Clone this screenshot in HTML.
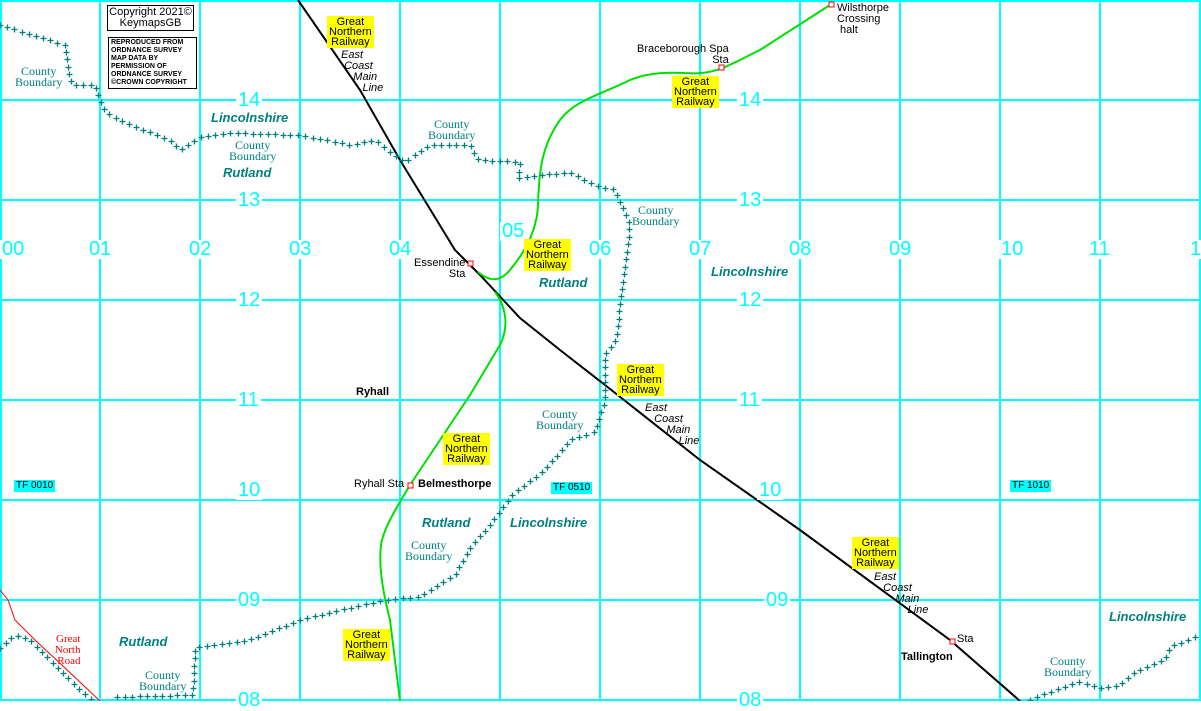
<!DOCTYPE html>
<html><head><meta charset="utf-8"><style>
body{margin:0;background:#fff;width:1201px;height:701px;overflow:hidden;position:relative;font-family:"Liberation Sans",sans-serif}
svg{position:absolute;left:0;top:0}
.g{position:absolute;background:#ff0;font-size:11px;line-height:10px;text-align:center;padding:1px 2px;white-space:nowrap}
.n{position:absolute;color:#00ffff;font-size:20px;background:#fff;padding:0 2px;line-height:19px}
.cb{position:absolute;color:#008080;font-family:"Liberation Serif",serif;font-size:12px;line-height:11px;text-align:center;background:#fff}
.co{position:absolute;color:#008080;font-family:"Liberation Sans",sans-serif;font-weight:bold;font-style:italic;font-size:13px;background:#fff;line-height:14px}
.bl{position:absolute;font-size:11px;line-height:11px;color:#000}
.it{position:absolute;font-size:11px;font-style:italic;line-height:11px;text-align:center}
.tf{position:absolute;background:#00ffff;font-size:10px;padding:0 2px;line-height:12px}
</style></head><body>
<svg width="1201" height="701" id="s">
<g stroke="#00ffff" stroke-width="2">
<line x1="0" y1="1" x2="1201" y2="1"/>
<line x1="0" y1="100" x2="1201" y2="100"/><line x1="0" y1="200" x2="1201" y2="200"/>
<line x1="0" y1="300" x2="1201" y2="300"/><line x1="0" y1="400" x2="1201" y2="400"/>
<line x1="0" y1="500" x2="1201" y2="500"/><line x1="0" y1="600" x2="1201" y2="600"/>
<line x1="0" y1="700" x2="1201" y2="700"/>
<line x1="1" y1="0" x2="1" y2="701"/><line x1="100" y1="0" x2="100" y2="701"/>
<line x1="200" y1="0" x2="200" y2="701"/><line x1="300" y1="0" x2="300" y2="701"/>
<line x1="400" y1="0" x2="400" y2="701"/><line x1="500" y1="0" x2="500" y2="701"/>
<line x1="600" y1="0" x2="600" y2="701"/><line x1="700" y1="0" x2="700" y2="701"/>
<line x1="800" y1="0" x2="800" y2="701"/><line x1="900" y1="0" x2="900" y2="701"/>
<line x1="1000" y1="0" x2="1000" y2="701"/><line x1="1100" y1="0" x2="1100" y2="701"/>
<line x1="1200" y1="0" x2="1200" y2="701"/>
</g>
<g id="cbpaths" fill="none" stroke="none">
<path d="M0,25 L65,45 L68,70 L72,85 L95,85 L100,100 L105,112 L130,125 L170,140 L180,150 L200,137 L230,133 L300,135 L350,145 L375,140 L390,152 L405,162 L430,145 L470,145 L478,160 L520,162 L518,178 L570,172 L595,185 L615,190 L630,225 L622,290 L616,340 L605,355 L605,400 L595,432 L570,440 L545,470 L512,495 L490,525 L470,548 L455,575 L420,597 L385,600 L340,610 L300,620 L250,640 L195,648 L193,695 L115,697"/>
<path d="M0,648 L15,635 L30,640 L45,655 L70,680 L92,700"/>
<path d="M1030,700 L1060,688 L1080,682 L1100,688 L1120,685 L1135,672 L1165,660 L1170,647 L1200,635"/>
</g>
<path d="M0,590 L8,600 L15,620 L35,640 L65,668 L100,701" fill="none" stroke="#f00" stroke-width="1"/>
<path d="M298,0 L360,90 L400,160 L455,250 L480,275 L520,318 L560,350 L605,385 L700,460 L800,530 L950,640 L1020,701" fill="none" stroke="#000" stroke-width="2"/>
<path d="M478,272 C490,282 500,282 510,270 C525,252 537,230 538,205 C539,170 542,145 560,120 C575,100 600,95 630,80 C660,68 690,75 700,73 C720,72 735,62 760,50 L830,5" fill="none" stroke="#00e000" stroke-width="2"/>
<path d="M495,292 C505,305 510,325 500,345 L470,395 L440,440 L410,485 C395,510 383,530 381,545 C378,570 385,600 390,620 L400,701" fill="none" stroke="#00e000" stroke-width="2"/>
<g fill="#fff" stroke="#f00" stroke-width="1">
<rect x="468" y="261" width="5" height="5"/><rect x="719" y="65" width="5" height="5"/><rect x="829" y="2" width="5" height="5"/>
<rect x="408" y="483" width="5" height="5"/><rect x="950" y="639" width="5" height="5"/>
</g>
<g id="crosses" stroke="#008080" stroke-width="1.3"></g>
</svg>
<script>
var ps=document.querySelectorAll('#cbpaths path'),g=document.getElementById('crosses'),h='';
ps.forEach(function(p){var L=p.getTotalLength();for(var d=0;d<=L;d+=7.5){var q=p.getPointAtLength(d),x=Math.round(q.x)+.5,y=Math.round(q.y)+.5;h+='<path d="M'+(x-3)+','+y+'h6M'+x+','+(y-3)+'v6"/>';}});
g.innerHTML=h;
</script>
<div style="position:absolute;left:107px;top:5px;border:1px solid #000;background:#fff;font-size:11px;line-height:11px;text-align:center;width:85px;padding:1px 0">Copyright 2021©<br>KeymapsGB</div>
<div style="position:absolute;left:108px;top:37px;border:1px solid #000;background:#fff;font-size:7px;line-height:8px;width:83px;padding:1px 2px;font-weight:bold">REPRODUCED FROM<br>ORDNANCE SURVEY<br>MAP DATA BY<br>PERMISSION OF<br>ORDNANCE SURVEY<br>©CROWN COPYRIGHT</div>
<div class="n" style="left:236px;top:91px">14</div><div class="n" style="left:737px;top:91px">14</div>
<div class="n" style="left:236px;top:191px">13</div><div class="n" style="left:737px;top:191px">13</div>
<div class="n" style="left:236px;top:291px">12</div><div class="n" style="left:737px;top:291px">12</div>
<div class="n" style="left:236px;top:391px">11</div><div class="n" style="left:737px;top:391px">11</div>
<div class="n" style="left:236px;top:481px">10</div><div class="n" style="left:757px;top:481px">10</div>
<div class="n" style="left:236px;top:591px">09</div><div class="n" style="left:764px;top:591px">09</div>
<div class="n" style="left:236px;top:691px">08</div><div class="n" style="left:737px;top:691px">08</div>
<div class="n" style="left:0px;top:240px">00</div><div class="n" style="left:87px;top:240px">01</div>
<div class="n" style="left:187px;top:240px">02</div><div class="n" style="left:287px;top:240px">03</div>
<div class="n" style="left:387px;top:240px">04</div><div class="n" style="left:500px;top:222px">05</div>
<div class="n" style="left:587px;top:240px">06</div><div class="n" style="left:687px;top:240px">07</div>
<div class="n" style="left:787px;top:240px">08</div><div class="n" style="left:887px;top:240px">09</div>
<div class="n" style="left:999px;top:240px">10</div><div class="n" style="left:1087px;top:240px">11</div>
<div class="n" style="left:1188px;top:240px">1</div>
<div class="tf" style="left:14px;top:480px">TF 0010</div>
<div class="tf" style="left:551px;top:482px">TF 0510</div>
<div class="tf" style="left:1010px;top:480px">TF 1010</div>
<div class="g" style="left:327px;top:16px">Great<br>Northern<br>Railway</div>
<div class="g" style="left:672px;top:76px">Great<br>Northern<br>Railway</div>
<div class="g" style="left:524px;top:239px">Great<br>Northern<br>Railway</div>
<div class="g" style="left:617px;top:364px">Great<br>Northern<br>Railway</div>
<div class="g" style="left:443px;top:433px">Great<br>Northern<br>Railway</div>
<div class="g" style="left:852px;top:537px">Great<br>Northern<br>Railway</div>
<div class="g" style="left:343px;top:629px">Great<br>Northern<br>Railway</div>
<div class="it" style="left:338px;top:50px;text-align:left">&nbsp;East<br>&nbsp;&nbsp;Coast<br>&nbsp;&nbsp;&nbsp;&nbsp;&nbsp;Main<br>&nbsp;&nbsp;&nbsp;&nbsp;&nbsp;&nbsp;&nbsp;&nbsp;Line</div>
<div class="it" style="left:645px;top:403px;text-align:left">East<br>&nbsp;&nbsp;&nbsp;Coast<br>&nbsp;&nbsp;&nbsp;&nbsp;&nbsp;&nbsp;&nbsp;Main<br>&nbsp;&nbsp;&nbsp;&nbsp;&nbsp;&nbsp;&nbsp;&nbsp;&nbsp;&nbsp;&nbsp;Line</div>
<div class="it" style="left:874px;top:572px;text-align:left">East<br>&nbsp;&nbsp;&nbsp;Coast<br>&nbsp;&nbsp;&nbsp;&nbsp;&nbsp;&nbsp;&nbsp;Main<br>&nbsp;&nbsp;&nbsp;&nbsp;&nbsp;&nbsp;&nbsp;&nbsp;&nbsp;&nbsp;&nbsp;Line</div>
<div class="bl" style="left:414px;top:258px;text-align:right">Essendine<br>&nbsp;&nbsp;&nbsp;&nbsp;&nbsp;&nbsp;&nbsp;Sta</div>
<div class="bl" style="left:637px;top:44px;text-align:right">Braceborough Spa<br>Sta</div>
<div class="bl" style="left:837px;top:3px">Wilsthorpe<br>Crossing<br>&nbsp;halt</div>
<div class="bl" style="left:354px;top:479px">Ryhall Sta</div>
<div class="bl" style="left:418px;top:479px;font-weight:bold">Belmesthorpe</div>
<div class="bl" style="left:356px;top:387px;font-weight:bold">Ryhall</div>
<div class="bl" style="left:957px;top:634px">Sta</div>
<div class="bl" style="left:901px;top:652px;font-weight:bold">Tallington</div>
<div style="position:absolute;left:38px;top:634px;color:#f00;font-size:11px;line-height:11px;text-align:right;font-family:'Liberation Serif',serif">Great<br>&nbsp;&nbsp;&nbsp;North<br>&nbsp;&nbsp;&nbsp;&nbsp;&nbsp;&nbsp;&nbsp;Road</div>
<div class="cb" style="left:15px;top:66px">County<br>Boundary</div>
<div class="cb" style="left:229px;top:140px">County<br>Boundary</div>
<div class="cb" style="left:428px;top:119px">County<br>Boundary</div>
<div class="cb" style="left:632px;top:205px">County<br>Boundary</div>
<div class="cb" style="left:536px;top:409px">County<br>Boundary</div>
<div class="cb" style="left:405px;top:540px">County<br>Boundary</div>
<div class="cb" style="left:139px;top:670px">County<br>Boundary</div>
<div class="cb" style="left:1044px;top:656px">County<br>Boundary</div>
<div class="co" style="left:211px;top:111px">Lincolnshire</div>
<div class="co" style="left:223px;top:166px">Rutland</div>
<div class="co" style="left:539px;top:276px">Rutland</div>
<div class="co" style="left:711px;top:265px">Lincolnshire</div>
<div class="co" style="left:422px;top:516px">Rutland</div>
<div class="co" style="left:510px;top:516px">Lincolnshire</div>
<div class="co" style="left:119px;top:635px">Rutland</div>
<div class="co" style="left:1109px;top:610px">Lincolnshire</div>
</body></html>
